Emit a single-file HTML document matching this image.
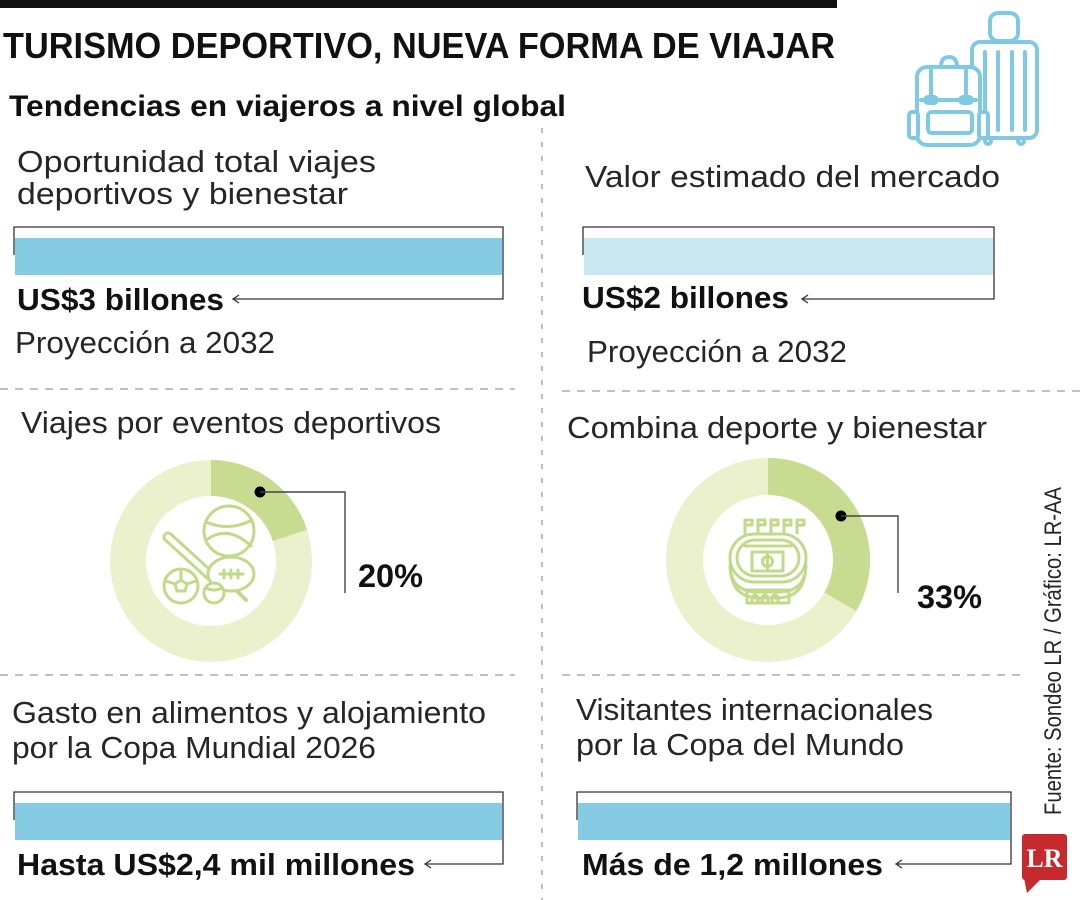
<!DOCTYPE html>
<html>
<head>
<meta charset="utf-8">
<style>
  html,body{margin:0;padding:0;background:#fff;}
  svg{display:block;}
  text{font-family:"Liberation Sans",Arial,sans-serif;}
  .reg{font-size:31px;fill:#262626;}
  .bold{font-size:31px;font-weight:bold;fill:#111;}
</style>
</head>
<body>
<svg width="1080" height="900" viewBox="0 0 1080 900" xmlns="http://www.w3.org/2000/svg">
  <rect x="0" y="0" width="1080" height="900" fill="#fff"/>

  <!-- top bar -->
  <rect x="0" y="0" width="837" height="8" fill="#111"/>

  <!-- title -->
  <text x="3" y="58" font-size="36" font-weight="bold" fill="#111" textLength="832" lengthAdjust="spacingAndGlyphs">TURISMO DEPORTIVO, NUEVA FORMA DE VIAJAR</text>
  <text x="9" y="116" font-size="30" font-weight="bold" fill="#111" textLength="557" lengthAdjust="spacingAndGlyphs">Tendencias en viajeros a nivel global</text>

  <!-- luggage icon -->
  <g fill="none" stroke="#80C9E3" stroke-width="4" stroke-linejoin="round" stroke-linecap="round">
    <!-- suitcase -->
    <rect x="990" y="13" width="28" height="28" rx="8"/>
    <rect x="972" y="42" width="65" height="96" rx="8" fill="#fff"/>
    <line x1="985" y1="52" x2="985" y2="130"/>
    <line x1="998" y1="52" x2="998" y2="130"/>
    <line x1="1012" y1="52" x2="1012" y2="130"/>
    <line x1="1025" y1="52" x2="1025" y2="130"/>
    <circle cx="988" cy="141" r="3"/>
    <circle cx="1021" cy="141" r="3"/>
    <!-- backpack -->
    <path d="M941 67 Q941 57 949 57 Q957 57 957 67"/>
    <rect x="917" y="67" width="63" height="78" rx="10" fill="#fff"/>
    <rect x="909" y="112" width="9" height="26" rx="3" fill="#fff"/>
    <rect x="979" y="112" width="9" height="26" rx="3" fill="#fff"/>
    <path d="M921 100 L976 100"/>
    <line x1="931" y1="70" x2="931" y2="98"/>
    <line x1="966" y1="70" x2="966" y2="98"/>
    <rect x="925" y="97" width="12" height="6" rx="3"/>
    <rect x="960" y="97" width="12" height="6" rx="3"/>
    <rect x="928" y="112" width="44" height="21" rx="4"/>
  </g>

  <!-- vertical divider -->
  <line x1="542" y1="128" x2="542" y2="900" stroke="#9a9a9a" stroke-width="1.3" stroke-dasharray="5 9"/>

  <!-- horizontal dividers -->
  <line x1="0" y1="389" x2="515" y2="389" stroke="#9a9a9a" stroke-width="1.3" stroke-dasharray="8 7"/>
  <line x1="562" y1="391" x2="1080" y2="391" stroke="#9a9a9a" stroke-width="1.3" stroke-dasharray="8 7"/>
  <line x1="0" y1="675" x2="515" y2="675" stroke="#9a9a9a" stroke-width="1.3" stroke-dasharray="8 7"/>
  <line x1="562" y1="675" x2="1022" y2="675" stroke="#9a9a9a" stroke-width="1.3" stroke-dasharray="8 7"/>

  <!-- Section 1 -->
  <text class="reg" x="17" y="172" textLength="359" lengthAdjust="spacingAndGlyphs">Oportunidad total viajes</text>
  <text class="reg" x="17" y="204" textLength="331" lengthAdjust="spacingAndGlyphs">deportivos y bienestar</text>
  <rect x="15" y="238" width="487" height="37" fill="#86CBE4"/>
  <g stroke="#333" stroke-width="1.3" fill="none">
    <polyline points="14,255 14,227 503,227 503,299 233,299"/>
    <polyline points="239,295 233,299 239,303"/>
  </g>
  <text class="bold" x="17" y="310" textLength="207" lengthAdjust="spacingAndGlyphs">US$3 billones</text>
  <text class="reg" x="15" y="353" textLength="260" lengthAdjust="spacingAndGlyphs">Proyección a 2032</text>

  <!-- Section 2 -->
  <text class="reg" x="585" y="187" textLength="415" lengthAdjust="spacingAndGlyphs">Valor estimado del mercado</text>
  <rect x="584" y="238" width="409" height="37" fill="#C9E7F1"/>
  <g stroke="#333" stroke-width="1.3" fill="none">
    <polyline points="583,255 583,227 994,227 994,299 802,299"/>
    <polyline points="808,295 802,299 808,303"/>
  </g>
  <text class="bold" x="582" y="308" textLength="207" lengthAdjust="spacingAndGlyphs">US$2 billones</text>
  <text class="reg" x="587" y="362" textLength="260" lengthAdjust="spacingAndGlyphs">Proyección a 2032</text>

  <!-- Section 3 -->
  <text class="reg" x="21" y="433" textLength="420" lengthAdjust="spacingAndGlyphs">Viajes por eventos deportivos</text>
  <circle cx="211" cy="561" r="83" fill="none" stroke="#EBF1CD" stroke-width="36"/>
  <path d="M211 478 A83 83 0 0 1 289.94 535.35" fill="none" stroke="#C7DC90" stroke-width="36"/>
  <!-- sports icon -->
  <g fill="#fff" stroke="#C3D98A" stroke-width="3" stroke-linecap="round" stroke-linejoin="round">
    <circle cx="229" cy="531" r="25"/>
    <path d="M206 522 Q229 532 252 520" fill="none"/>
    <path d="M206 540 Q228 524 251 546" fill="none"/>
    <line x1="168" y1="537" x2="213" y2="578" stroke-width="11"/>
    <line x1="168" y1="537" x2="213" y2="578" stroke="#fff" stroke-width="5"/>
    <circle cx="181" cy="586" r="17"/>
    <polygon points="181,580 187,584 185,591 177,591 175,584" fill="none"/>
    <line x1="181" y1="580" x2="181" y2="570"/>
    <line x1="187" y1="584" x2="196" y2="581"/>
    <line x1="175" y1="584" x2="166" y2="581"/>
    <line x1="236" y1="590" x2="246" y2="600" stroke-width="4"/>
    <ellipse cx="231" cy="574" rx="23" ry="17"/>
    <line x1="220" y1="574" x2="243" y2="574"/>
    <line x1="224" y1="570" x2="224" y2="578"/>
    <line x1="231" y1="570" x2="231" y2="578"/>
    <line x1="238" y1="570" x2="238" y2="578"/>
    <circle cx="214" cy="593" r="10"/>
    <path d="M206 588 Q214 592 222 588" fill="none"/>
  </g>
  <circle cx="260" cy="492" r="5.5" fill="#000"/>
  <polyline points="260,492 345,492 345,593" fill="none" stroke="#444" stroke-width="1.4"/>
  <text x="358" y="587" font-size="32" font-weight="bold" fill="#111" textLength="65" lengthAdjust="spacingAndGlyphs">20%</text>

  <!-- Section 4 -->
  <text class="reg" x="567" y="438" textLength="420" lengthAdjust="spacingAndGlyphs">Combina deporte y bienestar</text>
  <circle cx="768" cy="560" r="83.5" fill="none" stroke="#EBF1CD" stroke-width="37"/>
  <path d="M768 476.5 A83.5 83.5 0 0 1 840.3 601.75" fill="none" stroke="#C7DC90" stroke-width="37"/>
  <!-- stadium icon -->
  <g fill="none" stroke="#C3D98A" stroke-width="3" stroke-linejoin="round" stroke-linecap="round">
    <g>
      <line x1="745" y1="520" x2="745" y2="533"/><rect x="745" y="520" width="7" height="5"/>
      <line x1="758" y1="520" x2="758" y2="533"/><rect x="758" y="520" width="7" height="5"/>
      <line x1="771" y1="520" x2="771" y2="533"/><rect x="771" y="520" width="7" height="5"/>
      <line x1="784" y1="520" x2="784" y2="533"/><rect x="784" y="520" width="7" height="5"/>
      <line x1="797" y1="520" x2="797" y2="533"/><rect x="797" y="520" width="7" height="5"/>
    </g>
    <rect x="730" y="534" width="76" height="48" rx="24"/>
    <rect x="737" y="540" width="62" height="36" rx="18"/>
    <line x1="745" y1="546" x2="791" y2="546" stroke-dasharray="3 2"/>
    <rect x="752" y="552" width="31" height="19"/>
    <circle cx="767.5" cy="561.5" r="5"/>
    <line x1="767.5" y1="552" x2="767.5" y2="571"/>
    <path d="M730 565 Q730 590 755 592 L781 592 Q806 590 806 565"/>
    <path d="M731 574 Q734 596 756 598 L780 598 Q802 596 805 574"/>
    <rect x="747" y="590" width="42" height="13"/>
    <path d="M752 603 v-5 a3 3 0 0 1 6 0 v5 M762 603 v-5 a3 3 0 0 1 6 0 v5 M772 603 v-5 a3 3 0 0 1 6 0 v5"/>
  </g>
  <circle cx="841" cy="516" r="5.5" fill="#000"/>
  <polyline points="841,516 898,516 898,593" fill="none" stroke="#444" stroke-width="1.4"/>
  <text x="917" y="608" font-size="32" font-weight="bold" fill="#111" textLength="65" lengthAdjust="spacingAndGlyphs">33%</text>

  <!-- Section 5 -->
  <text class="reg" x="12" y="723" textLength="474" lengthAdjust="spacingAndGlyphs">Gasto en alimentos y alojamiento</text>
  <text class="reg" x="12" y="758" textLength="364" lengthAdjust="spacingAndGlyphs">por la Copa Mundial 2026</text>
  <rect x="15" y="803" width="487" height="37" fill="#86CBE4"/>
  <g stroke="#333" stroke-width="1.3" fill="none">
    <polyline points="14,820 14,792 503,792 503,864 425,864"/>
    <polyline points="431,860 425,864 431,868"/>
  </g>
  <text class="bold" x="17" y="875" textLength="398" lengthAdjust="spacingAndGlyphs">Hasta US$2,4 mil millones</text>

  <!-- Section 6 -->
  <text class="reg" x="576" y="720" textLength="357" lengthAdjust="spacingAndGlyphs">Visitantes internacionales</text>
  <text class="reg" x="576" y="755" textLength="328" lengthAdjust="spacingAndGlyphs">por la Copa del Mundo</text>
  <rect x="578" y="803" width="432" height="37" fill="#86CBE4"/>
  <g stroke="#333" stroke-width="1.3" fill="none">
    <polyline points="577,820 577,792 1011,792 1011,864 896,864"/>
    <polyline points="902,860 896,864 902,868"/>
  </g>
  <text class="bold" x="582" y="875" textLength="301" lengthAdjust="spacingAndGlyphs">Más de 1,2 millones</text>

  <!-- source vertical -->
  <text transform="translate(1061,815) rotate(-90)" x="0" y="0" font-size="24" fill="#262626" textLength="328" lengthAdjust="spacingAndGlyphs">Fuente: Sondeo LR / Gráfico: LR-AA</text>

  <!-- LR logo -->
  <rect x="1022" y="834" width="45" height="46" rx="3" fill="#C62A2F"/>
  <polygon points="1024,878 1042,878 1027,893" fill="#C62A2F"/>
  <text x="1044.5" y="867" style="font-family:'Liberation Serif',serif;font-size:26px;font-weight:bold;" fill="#fff" text-anchor="middle" textLength="36" lengthAdjust="spacingAndGlyphs">LR</text>
</svg>
</body>
</html>
